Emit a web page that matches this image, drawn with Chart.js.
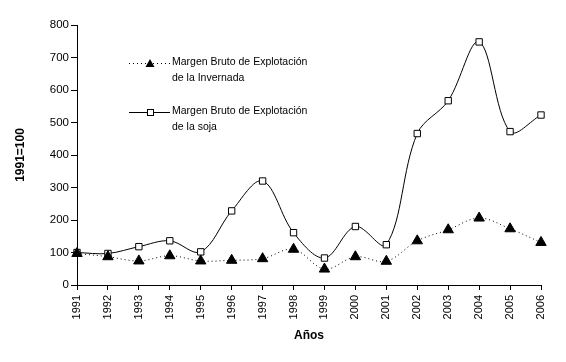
<!DOCTYPE html>
<html>
<head>
<meta charset="utf-8">
<script src="https://cdn.jsdelivr.net/npm/chart.js@4"></script>
<style>
  html, body { margin: 0; padding: 0; background: #fff; }
  #wrap { width: 566px; height: 362px; position: relative; }
</style>
</head>
<body>
<div id="wrap"><canvas id="chart" width="566" height="362"></canvas></div>
<script>
var years = ['1991','1992','1993','1994','1995','1996','1997','1998','1999','2000','2001','2002','2003','2004','2005','2006'];
var invernada = [97, 87, 74, 90, 74, 76, 81, 110, 49, 87, 73, 136, 170, 206, 173, 131];
var soja = [100, 97, 118, 136, 102, 228, 320, 161, 83, 180, 124, 466, 567, 748, 472, 523];
var yTicks = [0, 100, 200, 300, 400, 500, 600, 700, 800];
var legendLines = [
    ['Margen Bruto de Explotación', 'de la Invernada'],
    ['Margen Bruto de Explotación', 'de la soja']
];

var FONT = 'Arial, "Liberation Sans", sans-serif';

// legend drawn inside the plot like the original
var insideLegend = {
    id: 'insideLegend',
    afterDraw: function(chart) {
        var ctx = chart.ctx;
        var rows = [63, 112];
        ctx.save();
        ctx.font = '10.5px ' + FONT;
        ctx.fillStyle = '#000';
        ctx.textBaseline = 'middle';
        for (var i = 0; i < 2; i++) {
            var y = rows[i];
            ctx.strokeStyle = '#000';
            ctx.lineWidth = 1;
            ctx.setLineDash(i === 0 ? [1, 3] : []);
            ctx.beginPath();
            ctx.moveTo(129, y + 0.5);
            ctx.lineTo(170, y + 0.5);
            ctx.stroke();
            ctx.setLineDash([]);
            if (i === 0) {
                ctx.beginPath();
                ctx.moveTo(150, y - 4);
                ctx.lineTo(154.5, y + 4);
                ctx.lineTo(145.5, y + 4);
                ctx.closePath();
                ctx.fillStyle = '#000';
                ctx.fill();
            } else {
                ctx.fillStyle = '#fff';
                ctx.fillRect(147, y - 3, 6, 6);
                ctx.strokeRect(147.5, y - 2.5, 6, 6);
            }
            ctx.fillStyle = '#000';
            ctx.fillText(legendLines[i][0], 172, y - 1);
            ctx.fillText(legendLines[i][1], 172, y + 15);
        }
        ctx.restore();
    }
};

var ctx = document.getElementById('chart');
var chart = new Chart(ctx, {
    type: 'line',
    data: {
        labels: years,
        datasets: [{
            label: 'Margen Bruto de Explotación de la Invernada',
            data: invernada,
            borderColor: '#000',
            backgroundColor: '#000',
            borderWidth: 1,
            borderDash: [1, 3],
            tension: 0.35,
            pointStyle: 'triangle',
            pointRadius: 6,
            pointBorderWidth: 1
        }, {
            label: 'Margen Bruto de Explotación de la soja',
            data: soja,
            borderColor: '#000',
            backgroundColor: '#fff',
            borderWidth: 1,
            tension: 0.35,
            pointStyle: 'rect',
            pointRadius: 4.5,
            pointBorderWidth: 1
        }]
    },
    options: {
        responsive: false,
        animation: false,
        layout: { padding: { top: 25, right: 25, bottom: 0, left: 0 } },
        plugins: {
            legend: { display: false },
            tooltip: { enabled: false }
        },
        scales: {
            x: {
                offset: false,
                grid: { drawOnChartArea: false, color: '#000', tickLength: 5, tickColor: '#000' },
                border: { color: '#000', width: 1 },
                ticks: {
                    color: '#000', font: { family: FONT, size: 11 },
                    maxRotation: 90, minRotation: 90, padding: 5, autoSkip: false
                },
                title: {
                    display: true, text: 'Años', color: '#000',
                    font: { family: FONT, size: 12, weight: 'bold' },
                    padding: { top: 0, bottom: 19 }
                },
                afterFit: function(scale) { scale.height = 77; }
            },
            y: {
                min: 0, max: 800,
                afterBuildTicks: function(scale) {
                    scale.ticks = yTicks.map(function(v) { return { value: v }; });
                },
                grid: { drawOnChartArea: false, color: '#000', tickLength: 6, tickColor: '#000' },
                border: { color: '#000', width: 1 },
                ticks: { color: '#000', font: { family: FONT, size: 11.5 }, padding: 2 },
                title: {
                    display: true, text: '1991=100', color: '#000',
                    font: { family: FONT, size: 12, weight: 'bold' },
                    padding: { top: 13, bottom: 0 }
                },
                afterFit: function(scale) { scale.width = 77; }
            }
        }
    },
    plugins: [insideLegend]
});
</script>
</body>
</html>
